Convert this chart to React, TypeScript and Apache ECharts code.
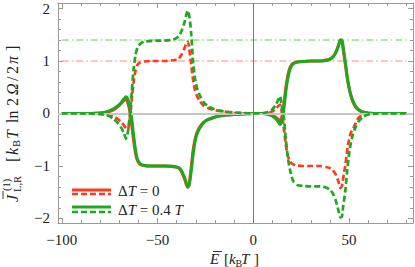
import React, { useEffect, useRef } from 'react';
import * as echarts from 'echarts';

// Energy grid (k_B T units)
const E_VALUES = [
  -100, -90, -80, -76, -73, -71, -69, -67.5, -66.5, -65.5,
  -64.5, -63.5, -62.5, -61.5, -60.5, -59, -57, -54, -50, -46,
  -43, -41, -39, -37.5, -36, -35, -34.2, -33.4, -32.5, -31.5,
  -30.5, -29.5, -28, -26, -24, -21, -18, -14, -10, -5,
  0, 5, 8, 10, 12, 13, 14, 15, 16, 17,
  18, 19, 20, 21, 23, 26, 30, 35, 38, 40,
  41.5, 43, 44.5, 45.5, 46.3, 47, 48, 49, 50, 51,
  52, 53.5, 55, 57, 60, 65, 70, 80,
];

// ΔT = 0, solid
const RED_SOLID = [
  0, 0, 0.01, 0.03, 0.07, 0.12, 0.19, 0.25, 0.27, 0.2,
  0.04, -0.22, -0.52, -0.76, -0.9, -0.97, -0.99, -1.0, -1.0, -1.0,
  -1.01, -1.02, -1.04, -1.11, -1.24, -1.35, -1.41, -1.3, -1.05, -0.72,
  -0.5, -0.37, -0.26, -0.17, -0.12, -0.08, -0.05, -0.03, -0.02, -0.01,
  0, 0, -0.01, -0.03, -0.08, -0.11, -0.15, -0.05, 0.2, 0.5,
  0.72, 0.86, 0.93, 0.96, 0.98, 0.99, 1.0, 1.0, 1.02, 1.04,
  1.08, 1.16, 1.3, 1.4, 1.38, 1.2, 0.95, 0.68, 0.48, 0.33,
  0.22, 0.12, 0.07, 0.03, 0.01, 0, 0, 0,
];

// ΔT = 0, dashed
const RED_DASHED = [
  0, 0, -0.01, -0.03, -0.06, -0.1, -0.16, -0.23, -0.28, -0.3,
  -0.1, 0.25, 0.6, 0.82, 0.93, 0.97, 0.99, 1.0, 1.0, 1.0,
  1.01, 1.02, 1.04, 1.12, 1.24, 1.33, 1.37, 1.22, 0.95, 0.65,
  0.45, 0.34, 0.24, 0.15, 0.11, 0.07, 0.05, 0.03, 0.01, 0,
  0, 0, 0.01, 0.04, 0.1, 0.14, 0.17, 0.0, -0.3, -0.6,
  -0.8, -0.9, -0.95, -0.97, -0.99, -1.0, -1.0, -1.0, -1.02, -1.04,
  -1.08, -1.16, -1.3, -1.42, -1.38, -1.22, -1.0, -0.72, -0.5, -0.36,
  -0.3, -0.18, -0.08, -0.03, -0.01, 0, 0, 0,
];

// ΔT = 0.4 T, solid
const GREEN_SOLID = [
  0, 0, 0.01, 0.04, 0.09, 0.14, 0.21, 0.28, 0.32, 0.27,
  0.12, -0.1, -0.42, -0.7, -0.87, -0.96, -0.99, -1.0, -1.0, -1.0,
  -1.0, -1.01, -1.03, -1.09, -1.21, -1.32, -1.4, -1.36, -1.12, -0.8,
  -0.55, -0.4, -0.28, -0.18, -0.12, -0.08, -0.05, -0.03, -0.02, -0.01,
  0, 0, -0.02, -0.05, -0.11, -0.16, -0.21, -0.12, 0.1, 0.42,
  0.66, 0.82, 0.91, 0.95, 0.98, 0.99, 1.0, 1.0, 1.01, 1.03,
  1.07, 1.15, 1.29, 1.4, 1.4, 1.25, 1.0, 0.72, 0.5, 0.35,
  0.24, 0.13, 0.07, 0.03, 0.01, 0, 0, 0,
];

// ΔT = 0.4 T, dashed
const GREEN_DASHED = [
  0, 0, -0.01, -0.04, -0.1, -0.17, -0.27, -0.38, -0.48, -0.35,
  -0.05, 0.4, 0.85, 1.12, 1.25, 1.33, 1.37, 1.38, 1.39, 1.39,
  1.4, 1.42, 1.47, 1.57, 1.73, 1.88, 1.96, 1.85, 1.55, 1.0,
  0.68, 0.5, 0.35, 0.22, 0.15, 0.09, 0.06, 0.03, 0.02, 0.01,
  0, 0.01, 0.03, 0.08, 0.18, 0.26, 0.33, 0.1, -0.1, -0.5,
  -0.82, -1.05, -1.2, -1.3, -1.36, -1.38, -1.39, -1.39, -1.41, -1.45,
  -1.52, -1.65, -1.85, -1.98, -1.96, -1.75, -1.5, -1.1, -0.78, -0.55,
  -0.4, -0.25, -0.15, -0.07, -0.02, 0, 0, 0,
];

// Reference levels (dash-dotted) and their span
const REF_RED_LEVEL = 1;
const REF_GREEN_LEVEL = 1.4;
const REF_SPAN = [-100, 80];

// Ticks
const X_MAJOR = [-100, -50, 0, 50];
const X_MINOR = [-90, -80, -70, -60, -40, -30, -20, -10, 10, 20, 30, 40, 60, 70, 80];
const Y_MAJOR = [-2, -1, 0, 1, 2];
const Y_MINOR = [-1.8, -1.6, -1.4, -1.2, -0.8, -0.6, -0.4, -0.2, 0.2, 0.4, 0.6, 0.8, 1.2, 1.4, 1.6, 1.8];
const X_RANGE = [-102, 83.4];
const Y_RANGE = [-2.086, 2.105];

const LEGEND_LABELS = ['{r|Δ}{i|T}{r| = 0}', '{r|Δ}{i|T}{r| = 0.4 }{i|T}'];

const RED = '#ff3b1f';
const GREEN = '#1ea81e';
const FRAME = '#999999';
const SERIF = '"Liberation Serif", "DejaVu Serif", serif';

const fmt = (v: number) => (v < 0 ? '\u2212' + Math.abs(v) : String(v));

function xAxisDef(position: string, major: boolean, labels: boolean) {
  return {
    type: 'value',
    position,
    min: X_RANGE[0],
    max: X_RANGE[1],
    axisLine: { show: major, onZero: false, lineStyle: { color: FRAME, width: 1 } },
    axisTick: {
      show: true,
      inside: true,
      length: major ? 5 : 3,
      customValues: major ? X_MAJOR : X_MINOR,
      lineStyle: { color: FRAME, width: 1 },
    },
    axisLabel: {
      show: labels,
      customValues: X_MAJOR,
      formatter: fmt,
      fontFamily: SERIF,
      fontSize: 15,
      color: '#222',
      margin: 9,
    },
    splitLine: { show: false },
  };
}

function yAxisDef(position: string, major: boolean, labels: boolean) {
  return {
    type: 'value',
    position,
    min: Y_RANGE[0],
    max: Y_RANGE[1],
    axisLine: { show: major, onZero: false, lineStyle: { color: FRAME, width: 1 } },
    axisTick: {
      show: true,
      inside: true,
      length: major ? 5 : 3,
      customValues: major ? Y_MAJOR : Y_MINOR,
      lineStyle: { color: FRAME, width: 1 },
    },
    axisLabel: {
      show: labels,
      customValues: Y_MAJOR,
      formatter: fmt,
      fontFamily: SERIF,
      fontSize: 15,
      color: '#222',
      margin: 8,
    },
    splitLine: { show: false },
  };
}

function curve(name: string, ys: number[], color: string, dashed: boolean, z: number) {
  return {
    type: 'line',
    name,
    data: E_VALUES.map((e, i) => [e, ys[i]]),
    showSymbol: false,
    symbol: 'none',
    smooth: 0.2,
    silent: true,
    z,
    lineStyle: { color, width: dashed ? 2.7 : 3, type: dashed ? [6, 3] : 'solid' },
  };
}

function txt(x: number, y: number, text: string, size: number, italic: boolean, extra: any = {}) {
  return {
    type: 'text',
    x,
    y,
    z: 100,
    style: {
      text,
      fontFamily: SERIF,
      fontSize: size,
      fontStyle: italic ? 'italic' : 'normal',
      fill: '#222',
      textAlign: 'left',
      align: 'left',
      textVerticalAlign: 'middle',
      verticalAlign: 'middle',
      ...extra,
    },
  };
}

function legendLine(y: number, color: string, dashed: boolean) {
  return {
    type: 'line',
    z: 100,
    shape: { x1: 72, y1: y, x2: 111, y2: y },
    style: { stroke: color, lineWidth: dashed ? 2.7 : 3, lineDash: dashed ? [6, 3] : null },
  };
}

const richStyles = {
  r: { fontFamily: SERIF, fontSize: 15, fill: '#222', color: '#222' },
  i: { fontFamily: SERIF, fontSize: 15, fontStyle: 'italic', fill: '#222', color: '#222' },
};

export default function App() {
  const ref = useRef<HTMLDivElement>(null);
  useEffect(() => {
    if (!ref.current) return;
    const chart = echarts.init(ref.current, undefined, { renderer: 'svg' });
    const option: any = {
      animation: false,
      grid: { left: 58, top: 3, width: 355, height: 220, containLabel: false },
      xAxis: [
        xAxisDef('bottom', true, true),
        xAxisDef('bottom', false, false),
        xAxisDef('top', true, false),
        xAxisDef('top', false, false),
      ],
      yAxis: [
        yAxisDef('left', true, true),
        yAxisDef('left', false, false),
        yAxisDef('right', true, false),
        yAxisDef('right', false, false),
      ],
      series: [
        {
          type: 'line',
          data: [],
          silent: true,
          z: 1,
          markLine: {
            silent: true,
            symbol: ['none', 'none'],
            label: { show: false },
            animation: false,
            data: [
              { yAxis: 0, lineStyle: { color: '#c6c6c6', width: 2, type: 'solid' } },
              { xAxis: 0, lineStyle: { color: '#7a7a7a', width: 1, type: 'solid' } },
            ],
          },
        },
        {
          type: 'line',
          data: REF_SPAN.map((e) => [e, REF_RED_LEVEL]),
          showSymbol: false,
          symbol: 'none',
          silent: true,
          z: 1,
          lineStyle: { color: '#ff8a70', width: 1, type: [7, 3, 1.5, 3] },
        },
        {
          type: 'line',
          data: REF_SPAN.map((e) => [e, REF_GREEN_LEVEL]),
          showSymbol: false,
          symbol: 'none',
          silent: true,
          z: 1,
          lineStyle: { color: '#4fd842', width: 1, type: [7, 3, 1.5, 3] },
        },
        curve('red solid', RED_SOLID, RED, false, 2),
        curve('red dashed', RED_DASHED, RED, true, 3),
        curve('green solid', GREEN_SOLID, GREEN, false, 4),
        curve('green dashed', GREEN_DASHED, GREEN, true, 5),
      ],
      graphic: [
        legendLine(190, RED, false),
        legendLine(194, RED, true),
        legendLine(207, GREEN, false),
        legendLine(212, GREEN, true),
        {
          type: 'text',
          x: 118,
          y: 191,
          z: 100,
          style: { text: LEGEND_LABELS[0], rich: richStyles, verticalAlign: 'middle', textVerticalAlign: 'middle' },
        },
        {
          type: 'text',
          x: 118,
          y: 210,
          z: 100,
          style: { text: LEGEND_LABELS[1], rich: richStyles, verticalAlign: 'middle', textVerticalAlign: 'middle' },
        },
        // x-axis title: Ē [k_B T]
        {
          type: 'group',
          z: 100,
          children: [
            txt(210, 259, 'E', 15, true),
            { type: 'line', z: 100, shape: { x1: 213, y1: 251.5, x2: 222, y2: 251.5 }, style: { stroke: '#222', lineWidth: 0.9 } },
            txt(224, 259, '[', 15, false),
            txt(229, 259, 'k', 15, true),
            txt(235.5, 263, 'B', 10, false),
            txt(241, 259, 'T', 15, true),
            txt(254, 259, ']', 15, false),
          ],
        },
        // y-axis title: J̄^(1)_{L,R} [k_B T ln 2 Ω/2π]
        {
          type: 'group',
          x: 12,
          y: 203,
          rotation: Math.PI / 2,
          z: 100,
          children: [
            txt(1, 0, 'J', 16, true),
            { type: 'line', z: 100, shape: { x1: 4, y1: -9, x2: 12, y2: -9 }, style: { stroke: '#222', lineWidth: 0.9 } },
            txt(12, -6, '(1)', 10.5, false),
            txt(11, 5.5, 'L,R', 10.5, false),
            txt(41, 0, '[', 16, false),
            txt(48, 0, 'k', 16, true),
            txt(56, 4.5, 'B', 10.5, false),
            txt(64, 0, 'T', 16, true),
            txt(80, 0, 'ln', 16, false),
            txt(97, 0, '2', 16, false),
            txt(108, 0, '\u03a9', 16, true),
            txt(122, 0, '/', 16, false),
            txt(129, 0, '2', 16, false),
            txt(139, 0, '\u03c0', 16, true),
            txt(152, 0, ']', 16, false),
          ],
        },
      ],
    };
    chart.setOption(option);
    return () => chart.dispose();
  }, []);
  return <div ref={ref} style={{ position: 'absolute', left: 0, top: 0, width: 415, height: 267 }} />;
}
